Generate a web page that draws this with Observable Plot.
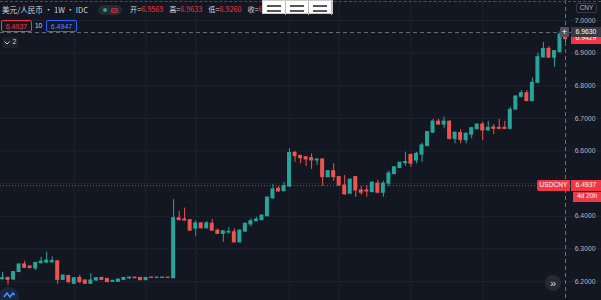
<!DOCTYPE html>
<html><head><meta charset="utf-8">
<script src="https://cdn.jsdelivr.net/npm/d3@7"></script>
<script src="https://cdn.jsdelivr.net/npm/@observablehq/plot@0.6"></script>
<style>
html,body{margin:0;padding:0;background:#131722;}
#wrap{position:relative;width:601px;height:300px;overflow:hidden;background:#131722;font-family:"Liberation Sans","Noto Sans CJK SC",Arial,sans-serif;}
#wrap > svg{position:absolute;left:0;top:0;}
.ov{position:absolute;white-space:nowrap;line-height:1;}
.box{position:absolute;display:flex;align-items:center;justify-content:center;white-space:nowrap;box-sizing:border-box;line-height:1;}
#wrap .box svg{position:static;display:block;}
</style></head><body><div id="wrap"></div>
<script>
// ---- data (weekly USD/CNY candles) ----
const weeks = ["2015-01-05","2015-01-12","2015-01-19","2015-01-26","2015-02-02","2015-02-09","2015-02-16","2015-02-23","2015-03-02","2015-03-09","2015-03-16","2015-03-23","2015-03-30","2015-04-06","2015-04-13","2015-04-20","2015-04-27","2015-05-04","2015-05-11","2015-05-18","2015-05-25","2015-06-01","2015-06-08","2015-06-15","2015-06-22","2015-06-29","2015-07-06","2015-07-13","2015-07-20","2015-07-27","2015-08-03","2015-08-10","2015-08-17","2015-08-24","2015-08-31","2015-09-07","2015-09-14","2015-09-21","2015-09-28","2015-10-05","2015-10-12","2015-10-19","2015-10-26","2015-11-02","2015-11-09","2015-11-16","2015-11-23","2015-11-30","2015-12-07","2015-12-14","2015-12-21","2015-12-28","2016-01-04","2016-01-11","2016-01-18","2016-01-25","2016-02-01","2016-02-08","2016-02-15","2016-02-22","2016-02-29","2016-03-07","2016-03-14","2016-03-21","2016-03-28","2016-04-04","2016-04-11","2016-04-18","2016-04-25","2016-05-02","2016-05-09","2016-05-16","2016-05-23","2016-05-30","2016-06-06","2016-06-13","2016-06-20","2016-06-27","2016-07-04","2016-07-11","2016-07-18","2016-07-25","2016-08-01","2016-08-08","2016-08-15","2016-08-22","2016-08-29","2016-09-05","2016-09-12","2016-09-19","2016-09-26","2016-10-03","2016-10-10","2016-10-17","2016-10-24","2016-10-31","2016-11-07","2016-11-14","2016-11-21","2016-11-28","2016-12-05","2016-12-12","2016-12-19"];
const open  = [6.207,6.211,6.206,6.229,6.252,6.246,6.240,6.256,6.258,6.259,6.262,6.205,6.217,6.193,6.211,6.203,6.193,6.203,6.211,6.208,6.199,6.199,6.205,6.210,6.212,6.211,6.204,6.212,6.211,6.211,6.212,6.210,6.394,6.390,6.388,6.362,6.378,6.363,6.377,6.356,6.346,6.350,6.351,6.320,6.353,6.375,6.385,6.388,6.400,6.455,6.484,6.477,6.491,6.594,6.585,6.581,6.578,6.571,6.574,6.520,6.538,6.520,6.494,6.469,6.520,6.479,6.479,6.474,6.500,6.472,6.500,6.529,6.548,6.563,6.588,6.571,6.589,6.615,6.656,6.690,6.681,6.690,6.637,6.655,6.633,6.650,6.667,6.681,6.663,6.672,6.671,6.671,6.668,6.727,6.766,6.777,6.753,6.809,6.887,6.913,6.886,6.903,6.9569];
const high  = [6.228,6.213,6.230,6.254,6.262,6.248,6.259,6.2745,6.290,6.275,6.264,6.220,6.219,6.212,6.219,6.205,6.224,6.212,6.213,6.210,6.204,6.207,6.212,6.213,6.213,6.212,6.212,6.213,6.213,6.213,6.213,6.451,6.415,6.425,6.390,6.386,6.380,6.384,6.390,6.361,6.356,6.366,6.361,6.358,6.379,6.392,6.397,6.404,6.459,6.497,6.491,6.504,6.607,6.599,6.587,6.583,6.591,6.576,6.576,6.540,6.561,6.522,6.525,6.514,6.522,6.491,6.494,6.505,6.510,6.507,6.538,6.552,6.566,6.596,6.590,6.596,6.624,6.660,6.697,6.697,6.704,6.692,6.658,6.665,6.655,6.672,6.683,6.688,6.691,6.681,6.697,6.691,6.734,6.769,6.785,6.785,6.824,6.900,6.933,6.920,6.908,6.966,6.9633];
const low   = [6.205,6.188,6.204,6.227,6.240,6.239,6.234,6.254,6.256,6.256,6.191,6.203,6.193,6.191,6.193,6.191,6.191,6.201,6.203,6.196,6.197,6.197,6.204,6.206,6.209,6.203,6.203,6.210,6.210,6.210,6.210,6.209,6.386,6.385,6.354,6.339,6.361,6.361,6.354,6.344,6.320,6.346,6.318,6.318,6.351,6.368,6.383,6.386,6.398,6.452,6.474,6.475,6.489,6.566,6.561,6.553,6.543,6.556,6.492,6.518,6.507,6.492,6.465,6.467,6.458,6.464,6.458,6.472,6.470,6.458,6.491,6.527,6.546,6.553,6.550,6.561,6.566,6.613,6.654,6.679,6.668,6.634,6.622,6.622,6.622,6.637,6.665,6.632,6.661,6.650,6.665,6.665,6.666,6.725,6.764,6.751,6.751,6.807,6.885,6.884,6.857,6.900,6.9260];
const close = [6.210,6.205,6.229,6.252,6.242,6.241,6.257,6.261,6.264,6.263,6.205,6.218,6.198,6.210,6.198,6.193,6.203,6.210,6.205,6.198,6.202,6.206,6.211,6.212,6.210,6.204,6.211,6.211,6.212,6.212,6.211,6.394,6.388,6.387,6.356,6.378,6.363,6.378,6.356,6.346,6.354,6.352,6.320,6.356,6.377,6.385,6.390,6.402,6.457,6.482,6.476,6.492,6.594,6.584,6.578,6.574,6.571,6.574,6.520,6.538,6.520,6.494,6.467,6.512,6.479,6.472,6.476,6.503,6.472,6.500,6.531,6.550,6.564,6.566,6.561,6.591,6.617,6.658,6.690,6.681,6.690,6.637,6.656,6.634,6.653,6.670,6.681,6.663,6.671,6.668,6.668,6.668,6.726,6.767,6.777,6.753,6.809,6.8875,6.913,6.886,6.906,6.957,6.9429];
const yTicks = [6.2,6.3,6.4,6.5,6.6,6.7,6.8,6.9,7.0];
const yTickLabels = [6.2,6.3,6.4,6.6,6.7,6.8,6.9,7.0]; // 6.5000 is hidden behind the price label
const gridWeeks = ["2015-04-06","2015-07-06","2015-09-07","2016-01-04","2016-03-07","2016-06-06","2016-09-05"];
const lastPrice = 6.4937;      // USDCNY price line
const crossPrice = 6.9630;     // crosshair level
const lastClose = 6.9429;
const header = {title:"美元/人民币 · 1W · IDC", o:"6.9569", h:"6.9633", l:"6.9260", c:"6.9429"};

const UP = "#26a69a", DOWN = "#ef5350", GRID = "#1f2330";
const data = weeks.map((w,i)=>({week:w, open:open[i], high:high[i], low:low[i], close:close[i]}));
const dir = d => d.close >= d.open ? "up" : "down";

const chart = Plot.plot({
  width: 601, height: 300, margin: 0,
  style: {background: "#131722", overflow: "visible"},
  x: {type: "band", domain: weeks, range: [-0.76, 567.76], paddingInner: 0.28, paddingOuter: 0.14, axis: null},
  y: {domain: [6.2, 7.0], range: [281, 20], axis: null},
  color: {domain: ["up","down"], range: [UP, DOWN]},
  marks: [
    Plot.ruleY(yTicks, {stroke: GRID}),
    Plot.ruleX(gridWeeks, {stroke: GRID}),
    Plot.ruleY([lastPrice], {stroke: "#c23a44", strokeDasharray: "1,2"}),
    Plot.ruleX(data, {x: "week", y1: "low", y2: "high", stroke: dir}),
    Plot.barY(data, {x: "week", y1: "open", y2: "close", fill: dir, insetTop: -0.5, insetBottom: -0.5}),
    Plot.ruleY([crossPrice], {stroke: "#6a6d78", strokeDasharray: "4,3"}),
    Plot.ruleX([weeks[weeks.length-1]], {stroke: "#6a6d78", strokeDasharray: "4,3"}),
    Plot.text(yTickLabels, {y: d => d, text: d => d.toFixed(4), frameAnchor: "right", textAnchor: "end", dx: -6, fill: "#b2b5be", fontSize: 6.8, fontFamily: "Liberation Sans, Arial, sans-serif"})
  ]
});
const wrap = document.getElementById("wrap");
wrap.appendChild(chart);

const ys = chart.scale("y");
const yAt = ys.apply ? v => ys.apply(v) : d3.scaleLinear(ys.domain, ys.range);

function el(html, css, cls="ov"){ const d=document.createElement("div"); d.className=cls; d.innerHTML=html; Object.assign(d.style, css); wrap.appendChild(d); return d; }

// top dashed border
el("", {left:"0px", top:"1px", width:"601px", height:"0px", borderTop:"1px dashed #4a4e59"});
// header
el(header.title, {left:"2px", top:"6px", fontSize:"7.6px", color:"#d1d4dc", fontFamily:'"Noto Sans CJK SC","Liberation Sans",sans-serif'});
// pill
el('<span style="display:inline-block;width:4px;height:4px;border-radius:50%;background:#26a69a;margin:0 4px 0 5px"></span><span style="display:inline-block;width:7px;height:5px;border-radius:1px;background:#7a2730;border:1px solid #b03040;box-sizing:border-box"></span>',
   {left:"98px", top:"5px", width:"24px", height:"10px", borderRadius:"5px", background:"#262a35", display:"flex", alignItems:"center"});
const lab = (k,v) => `<span style="color:#d1d4dc">${k}=</span><span style="color:#f23645">${v}</span>`;
el([lab("开",header.o),lab("高",header.h),lab("低",header.l),lab("收",header.c)].join('<span style="display:inline-block;width:6px"></span>'),
   {left:"130px", top:"6px", fontSize:"7.2px", fontFamily:'"Noto Sans CJK SC","Liberation Sans",sans-serif'});
// white toolbar box with three menu icons
const cell = '<div style="width:23px;height:14px;border-right:1px solid #bbb;display:flex;flex-direction:column;justify-content:center;align-items:center;gap:3px"><div style="width:14px;height:2px;background:#555"></div><div style="width:14px;height:2px;background:#555"></div></div>';
el(cell+cell+cell, {left:"262px", top:"0px", width:"71px", height:"14px", background:"#ffffff", display:"flex", border:"1px solid #ccc", boxSizing:"border-box"});
// row 2
el("6.4937", {left:"1px", top:"20px", width:"31px", height:"12px", border:"1px solid #f23645", borderRadius:"2px", color:"#f23645", fontSize:"7px"}, "box");
el("10", {left:"35px", top:"23px", fontSize:"6.5px", color:"#d1d4dc"});
el("6.4947", {left:"46px", top:"20px", width:"31px", height:"12px", border:"1px solid #2962ff", borderRadius:"2px", color:"#5b8cff", fontSize:"7px"}, "box");
// row 3 collapse
el('<svg width="6" height="4"><polyline points="0.5,0.5 3,3 5.5,0.5" fill="none" stroke="#d1d4dc" stroke-width="1"/></svg><span style="margin-left:3px">2</span>',
   {left:"2px", top:"37px", width:"16px", height:"11px", background:"#1e222d", borderRadius:"2px", color:"#d1d4dc", fontSize:"6.8px", flexDirection:"row"}, "box");
// CNY
el("CNY", {left:"576px", top:"3px", width:"21px", height:"10px", border:"1px solid #363a45", borderRadius:"2px", color:"#b2b5be", fontSize:"6.5px"}, "box");

// right price labels
const yl = yAt(lastClose);
el(lastClose.toFixed(4), {left:"571px", top:(yl-5)+"px", width:"30px", height:"10px", background:"#f23645", color:"#fff", fontSize:"6.8px"}, "box");
const yc = yAt(crossPrice);
el("+", {left:"560px", top:(yc-5)+"px", width:"9px", height:"10px", background:"#50535e", color:"#fff", fontSize:"9px", borderRadius:"1px"}, "box");
el(crossPrice.toFixed(4), {left:"571px", top:(yc-5)+"px", width:"30px", height:"10px", background:"#363a45", color:"#fff", fontSize:"6.8px"}, "box");
const yp = yAt(lastPrice);
el("USDCNY", {left:"537px", top:(yp-5.5)+"px", width:"33px", height:"11px", background:"#f23645", color:"#fff", fontSize:"6.6px", borderRadius:"2px 0 0 2px"}, "box");
el(lastPrice.toFixed(4), {left:"571px", top:(yp-5.5)+"px", width:"30px", height:"11px", background:"#f23645", color:"#fff", fontSize:"6.8px"}, "box");
el("4d 20h", {left:"573px", top:(yp+6.5)+"px", width:"28px", height:"10px", background:"#f23645", color:"#fff", fontSize:"6.6px"}, "box");

// scroll button
el("»", {left:"545px", top:"275px", width:"16px", height:"16px", borderRadius:"50%", background:"#262a35", color:"#d1d4dc", fontSize:"11px"}, "box");
// logo
el('<svg width="12" height="8" style="margin-top:-6px"><polyline points="1,6 4,2 7,6 10,2 11.5,4" fill="none" stroke="#4c8cff" stroke-width="1.6"/></svg>',
   {left:"-2px", top:"287px", width:"21px", height:"21px", borderRadius:"50%", background:"#1a2640"}, "box");
</script>
</body></html>
